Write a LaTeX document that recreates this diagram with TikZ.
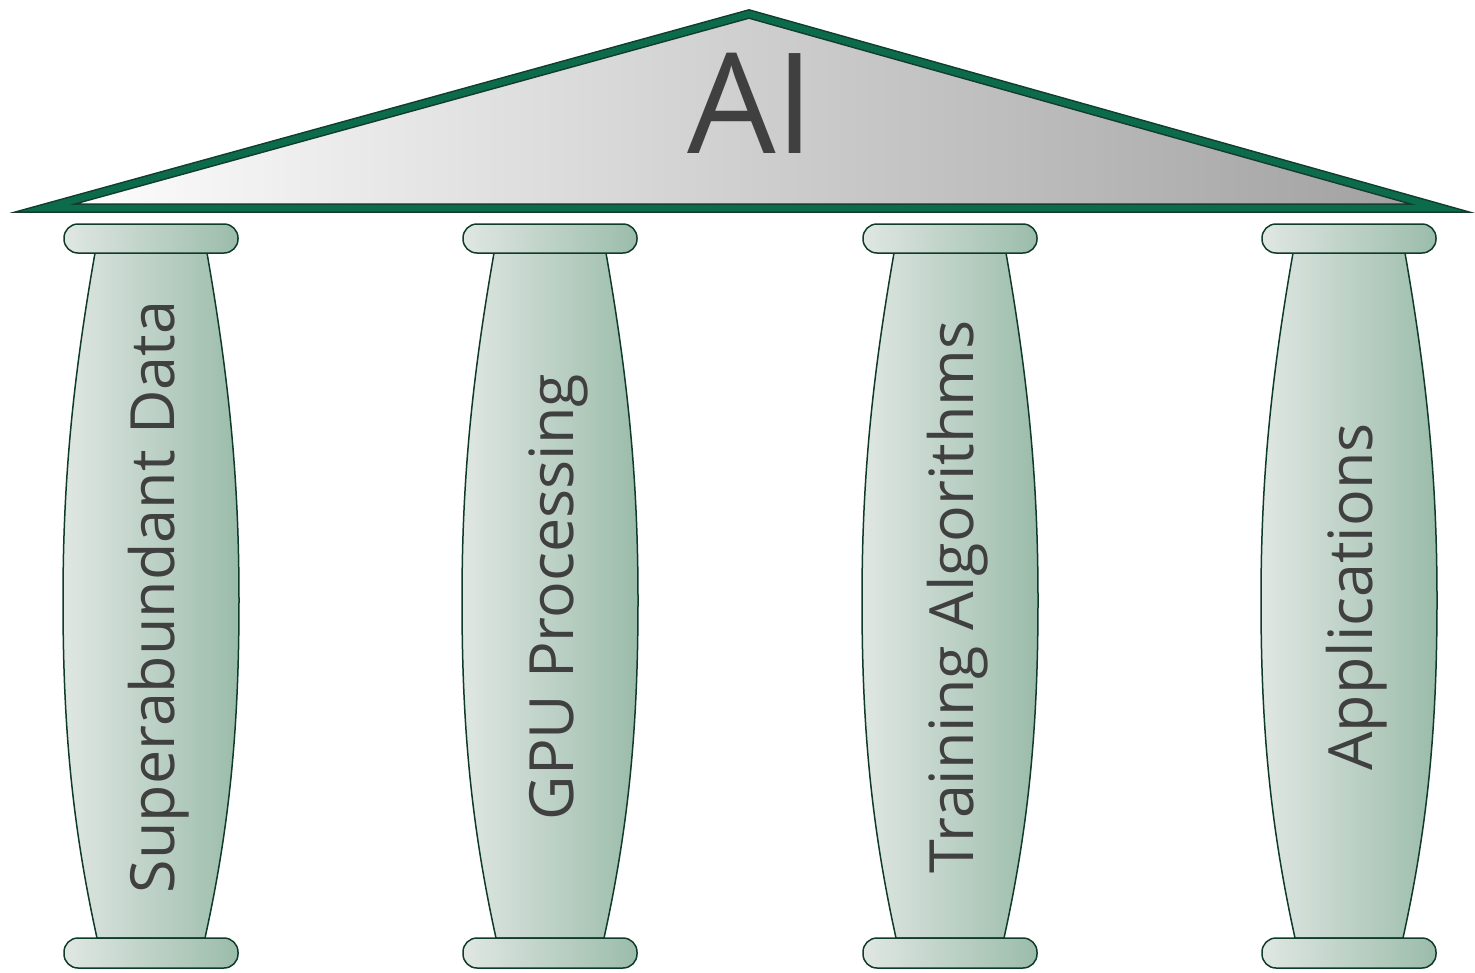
\documentclass[tikz,border=0pt]{standalone}
\usepackage{fontspec}
\setmainfont{Open Sans}
\usepackage{tikz}
\usetikzlibrary{calc}

\definecolor{roofgreen}{HTML}{0B6B4A}
\definecolor{roofdark}{HTML}{123D2C}
\definecolor{pillarlight}{HTML}{E0E7E3}
\definecolor{pillardark}{HTML}{9BBCAA}
\definecolor{pillarline}{HTML}{0F3B2B}
\definecolor{labelgray}{HTML}{404040}

\tikzset{
  roofline/.style={draw=roofdark, line width=1.5pt, double=roofgreen, double distance=6.5pt, line join=miter},
  pillarbody/.style={draw=pillarline, line width=1.5pt, left color=pillarlight, right color=pillardark},
  pillarcap/.style={pillarbody, rounded corners=14pt},
  pillarlabel/.style={rotate=90, anchor=base, text=labelgray, font=\fontsize{61}{72}\selectfont}
}

\begin{document}
\begin{tikzpicture}[x=1pt,y=-1pt]
          \useasboundingbox (0,0) rectangle (1475,972);

          % roof
          \shade[left color=white, right color=gray!75] (45,208) -- (749,14) -- (1440,208) -- cycle;
          \draw[roofline] (45,208) -- (749,14) -- (1440,208) -- cycle;
          \node[anchor=base, text=labelgray, font=\fontsize{140}{168}\selectfont] (ai) at (751,153) {AI};

          % pillars
          \foreach \cx/\name/\txt in {151/p1/Superabundant Data, 550/p2/GPU Processing, 950/p3/Training Algorithms, 1349/p4/Applications}{
            \shade[pillarbody] (\cx-56,253) .. controls (\cx-80,390) and (\cx-88,490) .. (\cx-88,600)
                .. controls (\cx-88,720) and (\cx-80,820) .. (\cx-54,938) -- (\cx+54,938)
                .. controls (\cx+80,820) and (\cx+88,720) .. (\cx+88,600)
                .. controls (\cx+88,490) and (\cx+80,390) .. (\cx+56,253) -- cycle;
            \shade[pillarcap] (\cx-87,224) rectangle (\cx+87,253);
            \shade[pillarcap] (\cx-87,938) rectangle (\cx+87,968);
            \node[pillarlabel] (\name) at (\cx+23,597) {\txt};
          }
        \end{tikzpicture}
\end{document}
